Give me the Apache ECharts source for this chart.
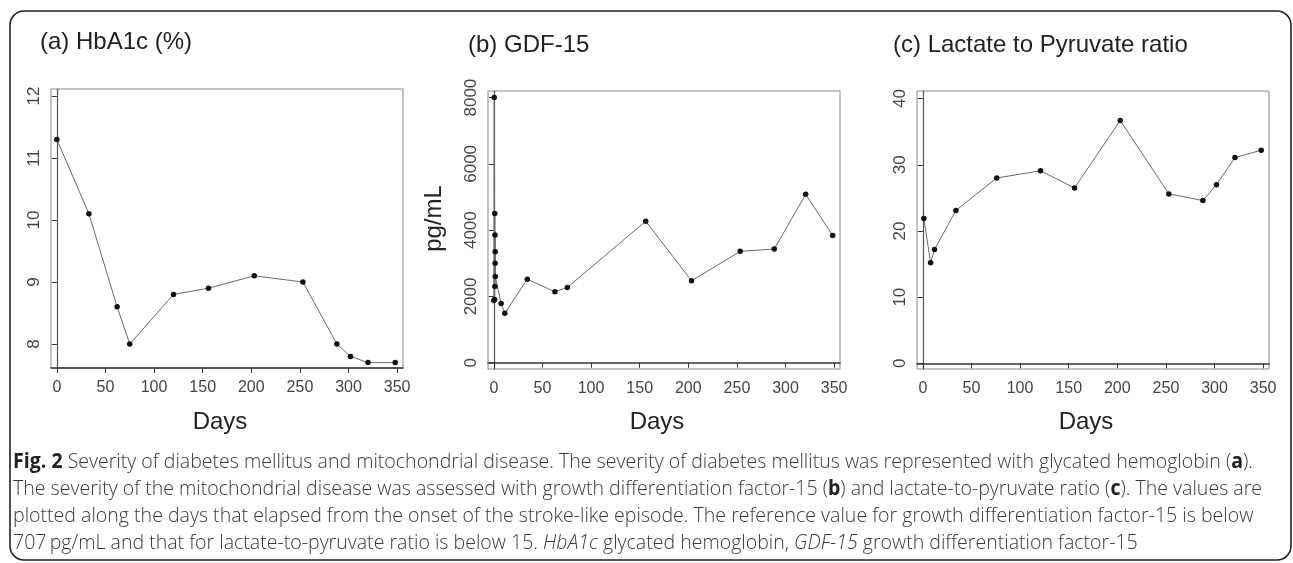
<!DOCTYPE html>
<html><head><meta charset="utf-8">
<script src="https://cdn.jsdelivr.net/npm/echarts@6/dist/echarts.min.js"></script>
<style>html,body{margin:0;padding:0;background:#fff}#c{width:1293px;height:563px}</style>
</head><body><div id="c"></div><script>
// ---- data ----
const daysA = [0, 33, 62, 75, 120, 156, 203, 253, 288, 302, 320, 348];
const hba1c = [11.3, 10.1, 8.6, 8.0, 8.8, 8.9, 9.1, 9.0, 8.0, 7.8, 7.7, 7.7];
const daysB = [0, 0.4, 0.8, 1.0, 1.1, 1.2, 1.3, 1.4, 1.5, 7.5, 11.3, 34.4, 62.8, 75.6, 156.2, 203.3, 253.4, 288.4, 320.7, 348.5];
const gdf15 = [1880, 8000, 1910, 4500, 2300, 3850, 3000, 3350, 2600, 1790, 1490, 2520, 2140, 2270, 4270, 2470, 3360, 3430, 5080, 3840];
const daysC = [1, 8, 12, 34, 76, 121, 156, 203, 253, 288, 302, 321, 348];
const lpRatio = [21.9, 15.2, 17.2, 23.1, 28.0, 29.1, 26.5, 36.7, 25.6, 24.6, 27.0, 31.1, 32.2];
const xTicks = [0, 50, 100, 150, 200, 250, 300, 350];
const yTicksA = [8, 9, 10, 11, 12];
const yTicksB = [0, 2000, 4000, 6000, 8000];
const yTicksC = [0, 10, 20, 30, 40];
const titles = ['(a) HbA1c (%)', '(b) GDF-15', '(c) Lactate to Pyruvate ratio'];
const xName = 'Days';
const yNameB = 'pg/mL';
const captionLines = [
  [['b','Fig. 2'],['n',' Severity of diabetes mellitus and mitochondrial disease. The severity of diabetes mellitus was represented with glycated hemoglobin ('],['b','a'],['n',').']],
  [['n','The severity of the mitochondrial disease was assessed with growth differentiation factor-15 ('],['b','b'],['n',') and lactate-to-pyruvate ratio ('],['b','c'],['n','). The values are']],
  [['n','plotted along the days that elapsed from the onset of the stroke-like episode. The reference value for growth differentiation factor-15 is below']],
  [['n','707\u2009pg/mL and that for lactate-to-pyruvate ratio is below 15. '],['i','HbA1c'],['n',' glycated hemoglobin, '],['i','GDF-15'],['n',' growth differentiation factor-15']]
];

// ---- layout ----
const FF = "'Liberation Sans', Arial, sans-serif";
const CF = "'Open Sans', 'Noto Sans', sans-serif";
const grids = [
  {left: 51, top: 89, width: 352, height: 279},
  {left: 488, top: 91, width: 352, height: 278},
  {left: 917, top: 91, width: 352, height: 278}
];
const yRanges = [[7.613, 12.113], [-190, 8199], [-0.86, 41.15]];
const yTicks = [yTicksA, yTicksB, yTicksC];
const seriesData = [[daysA, hba1c], [daysB, gdf15], [daysC, lpRatio]];

const axisColor = '#333';
const option = {
  animation: false,
  backgroundColor: '#fff',
  grid: grids.map(g => Object.assign({show: true, borderColor: '#8a8a8a', borderWidth: 1, backgroundColor: 'transparent'}, g)),
  xAxis: grids.map((g, i) => ({
    type: 'value', gridIndex: i, min: -6, max: 356,
    axisLine: {show: true, lineStyle: {color: axisColor, width: 1.5}},
    axisTick: {show: true, length: 5, customValues: xTicks, lineStyle: {color: axisColor}},
    axisLabel: {customValues: xTicks, margin: 12, fontSize: 16, color: '#444', fontFamily: FF, formatter: v => String(v)},
    splitLine: {show: false}
  })),
  yAxis: grids.map((g, i) => ({
    type: 'value', gridIndex: i, min: yRanges[i][0], max: yRanges[i][1],
    axisLine: {show: true, lineStyle: {color: '#555', width: 1.2}},
    axisTick: {show: true, length: 5, customValues: yTicks[i], lineStyle: {color: axisColor}},
    axisLabel: {customValues: yTicks[i], rotate: 90, margin: 8, fontSize: 17, color: '#444', fontFamily: FF, formatter: v => String(v)},
    splitLine: {show: false}
  })),
  series: seriesData.map((d, i) => ({
    type: 'line', xAxisIndex: i, yAxisIndex: i,
    data: d[0].map((x, k) => [x, d[1][k]]),
    symbol: 'circle', symbolSize: 5.5,
    lineStyle: {color: '#6a6a6a', width: 1},
    itemStyle: {color: '#111'},
    emphasis: {disabled: true}
  })),
  graphic: []
};

// titles
const titlePos = [[40, 42], [468, 45], [893, 45]];
titles.forEach((t, i) => option.graphic.push({
  type: 'text', x: titlePos[i][0], y: titlePos[i][1],
  style: {text: t, fontSize: 24, fontFamily: FF, fill: '#222', textAlign: 'left', textVerticalAlign: 'middle'}
}));
// Days labels
grids.forEach(g => option.graphic.push({
  type: 'text', x: g.left + g.width / 2 - 7, y: 422,
  style: {text: xName, fontSize: 24, fontFamily: FF, fill: '#222', textAlign: 'center', textVerticalAlign: 'middle'}
}));
// pg/mL
option.graphic.push({
  type: 'text', x: 434, y: 218.5, rotation: Math.PI / 2,
  style: {text: yNameB, fontSize: 24, fontFamily: FF, fill: '#222', textAlign: 'center', textVerticalAlign: 'middle'}
});

// caption
const CS = 21;
const cv = document.createElement('canvas').getContext('2d');
function fontFor(k) { return (k === 'b' ? 'bold ' : k === 'i' ? 'italic 300 ' : '300 ') + CS + 'px ' + CF; }
function measure(line) { let w = 0; line.forEach(s => { cv.font = fontFor(s[0]); w += cv.measureText(s[1]).width; }); return w; }
const targetW = 1240;
const scale = targetW / measure(captionLines[0]);
const capY = [462, 489, 516, 543];
captionLines.forEach((line, i) => {
  const text = line.map(s => s[0] === 'n' ? s[1] : '{' + s[0] + '|' + s[1] + '}').join('');
  option.graphic.push({
    type: 'text', x: 13, y: capY[i], scaleX: scale,
    style: {
      text: text, fontSize: CS, fontFamily: CF, fontWeight: 300, fill: '#3a3a3a', textAlign: 'left', textVerticalAlign: 'middle',
      rich: {
        b: {fontWeight: 'bold', fontSize: CS, fontFamily: CF, fill: '#222'},
        i: {fontStyle: 'italic', fontWeight: 300, fontSize: CS, fontFamily: CF, fill: '#3a3a3a'}
      }
    }
  });
});
// border
option.graphic.push({
  type: 'rect', shape: {x: 10, y: 11, width: 1281, height: 549, r: 14},
  style: {fill: 'none', stroke: '#222', lineWidth: 1.6}, silent: true
});

const chart = echarts.init(document.getElementById('c'), null, {renderer: 'canvas'});
chart.setOption(option);
</script></body></html>
